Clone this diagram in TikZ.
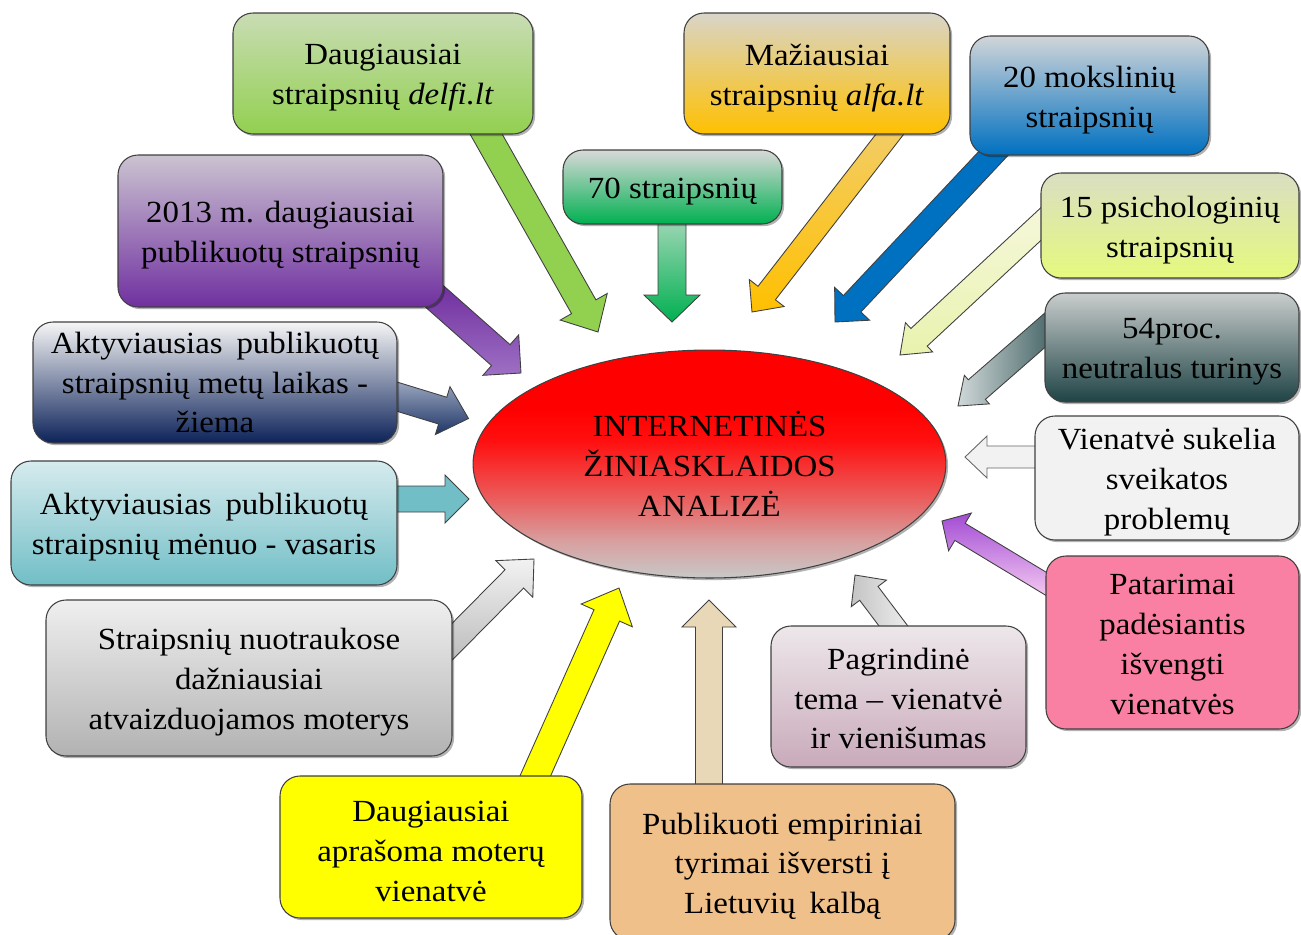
\documentclass[tikz,border=0pt]{standalone}
\usepackage{fontspec}
\setmainfont[FakeStretch=1.07]{Liberation Serif}
\usetikzlibrary{calc,shapes.geometric,shadows}

\definecolor{gDelfi}{HTML}{92D050}
\definecolor{gDelfiT}{HTML}{C9DCB4}
\definecolor{pur}{HTML}{7030A0}
\definecolor{purT}{HTML}{CBC3D1}
\definecolor{navy}{HTML}{0C2259}
\definecolor{navyM}{HTML}{7C89A8}
\definecolor{navyT}{HTML}{F6F6F6}
\definecolor{teal1}{HTML}{71BEC6}
\definecolor{tealT}{HTML}{D6EBEE}
\definecolor{grT}{HTML}{EFEFEF}
\definecolor{grB}{HTML}{B2B2B2}
\definecolor{yel}{HTML}{FFFF00}
\definecolor{tan1}{HTML}{F0C08A}
\definecolor{mauve}{HTML}{C9AABA}
\definecolor{mauveT}{HTML}{EDE7EA}
\definecolor{pink1}{HTML}{F97FA3}
\definecolor{wgrey}{HTML}{F2F2F2}
\definecolor{slate}{HTML}{1F4345}
\definecolor{slateT}{HTML}{C9CDCD}
\definecolor{lyel}{HTML}{E6F97E}
\definecolor{lyelT}{HTML}{DADEC2}
\definecolor{blue1}{HTML}{0070C0}
\definecolor{blueT}{HTML}{D1D5D9}
\definecolor{orng}{HTML}{FFC000}
\definecolor{orngT}{HTML}{D9D5C9}
\definecolor{grn}{HTML}{00B050}
\definecolor{grnT}{HTML}{D9D9D9}
% arrow colours
\definecolor{aGrnT}{HTML}{ADDABF}
\definecolor{aOrT}{HTML}{F1CE70}
\definecolor{aLyT}{HTML}{F6F8DC}
\definecolor{aLyB}{HTML}{E9F2AE}
\definecolor{aSlL}{HTML}{D0D8D8}
\definecolor{aSlR}{HTML}{2F5254}
\definecolor{aPkT}{HTML}{A24CD4}
\definecolor{aPkB}{HTML}{F7CDF2}
\definecolor{aGyL}{HTML}{C4C4C4}
\definecolor{aGyR}{HTML}{F0F0F0}
\definecolor{aTan}{HTML}{E8D8B8}
\definecolor{aG2T}{HTML}{F2F2F2}
\definecolor{aG2B}{HTML}{BBBBBB}
\definecolor{aNvT}{HTML}{A1ABC3}
\definecolor{aNvB}{HTML}{1D3566}
\definecolor{aPuT}{HTML}{6C2A9C}
\definecolor{aPuB}{HTML}{9E70C4}
% ellipse
\definecolor{elG}{HTML}{C8C8C8}
\definecolor{elP}{HTML}{D8A0A0}
\definecolor{elM}{HTML}{EA6060}
\definecolor{elR}{HTML}{FF1010}
\pgfdeclareverticalshading{ellshade}{100bp}{color(0bp)=(elG); color(25bp)=(elG); color(33bp)=(elP); color(42bp)=(elM); color(55bp)=(elR); color(62bp)=(red); color(100bp)=(red)}

\newcommand\fsz{\fontsize{17.5}{22.6}\selectfont}

\tikzset{
  bx/.style={draw=black!75, line width=0.6pt, rounded corners=0.4cm, inner sep=0pt,
    drop shadow={shadow xshift=1.2pt, shadow yshift=-1.2pt, opacity=0.3, fill=black}},
  bxtext/.style={font=\fsz, align=center, inner sep=0pt},
  arr/.style={draw=black!75, line width=0.5pt, line join=miter},
}

% box: [text shift], name, x1, y1, x2, y2, style, text
\newcommand\mybox[8][-0.085cm]{\node[bx,#7, minimum width={(#5-#3)*0.02cm}, minimum height={(#6-#4)*0.02cm},
  label={[bxtext,yshift=#1,name=#2t]center:#8}] (#2) at ({(#3+#5)/2},{(#4+#6)/2}) {};}

% block arrow: style, tail, tip, shaft half, head half, head length (px)
\newcommand\blockarrow[6]{%
  \coordinate (ah) at ($(#3)!#6*0.02cm!(#2)$);
  \draw[arr,#1] ($(#2)!#4*0.02cm!90:(#3)$) -- ($(ah)!#4*0.02cm!90:(#3)$) -- ($(ah)!#5*0.02cm!90:(#3)$) -- (#3) -- ($(ah)!#5*0.02cm!-90:(#3)$) -- ($(ah)!#4*0.02cm!-90:(#3)$) -- ($(#2)!#4*0.02cm!-90:(#3)$) -- cycle;}

\begin{document}
\begin{tikzpicture}[x=0.02cm,y=-0.02cm]
\useasboundingbox (0,0) rectangle (1301,934);
\clip (0,0) rectangle (1301,934);

% arrow end points
\coordinate (t1) at (477,118);  \coordinate (h1) at (598,332);
\coordinate (t2) at (672,210);  \coordinate (h2) at (672,322);
\coordinate (t3) at (901.6,119); \coordinate (h3) at (752,312);
\coordinate (t4) at (1006,140); \coordinate (h4) at (835,322);
\coordinate (t5) at (1056,210); \coordinate (h5) at (900,355);
\coordinate (t6) at (1060,317); \coordinate (h6) at (958,406);
\coordinate (t7) at (1050,457); \coordinate (h7) at (965,457);
\coordinate (t8) at (1058,591); \coordinate (h8) at (942,521);
\coordinate (t9) at (904,640);  \coordinate (h9) at (855,575);
\coordinate (t10) at (709,800); \coordinate (h10) at (709,600);
\coordinate (t11) at (529,790); \coordinate (h11) at (619,588);
\coordinate (t12) at (440,654); \coordinate (h12) at (534,559);
\coordinate (t13) at (385,499); \coordinate (h13) at (469,499);
\coordinate (t14) at (385,393); \coordinate (h14) at (468.5,418.5);
\coordinate (t15) at (425,288); \coordinate (h15) at (521,373);

\blockarrow{fill=gDelfi}{t1}{h1}{14}{27}{29}
\blockarrow{top color=aGrnT,bottom color=grn}{t2}{h2}{14}{28}{27}
\blockarrow{top color=aOrT,bottom color=orng}{t3}{h3}{11}{22}{24}
\blockarrow{fill=blue1}{t4}{h4}{12}{24}{25}
\blockarrow{top color=aLyT,bottom color=aLyB}{t5}{h5}{12}{20}{26}
\blockarrow{left color=aSlL,right color=aSlR}{t6}{h6}{13}{19}{25}
\blockarrow{fill=wgrey,draw=black!60}{t7}{h7}{11}{21}{22}
\blockarrow{top color=aPkT,bottom color=aPkB}{t8}{h8}{10}{22}{21}
\blockarrow{left color=aGyL,right color=aGyR}{t9}{h9}{11.5}{22}{23}
\blockarrow{fill=aTan}{t10}{h10}{13.5}{27}{27}
\blockarrow{fill=yel}{t11}{h11}{14}{28}{30}
\blockarrow{top color=aG2T,bottom color=aG2B}{t12}{h12}{13}{26}{28}
\blockarrow{fill=teal1}{t13}{h13}{13}{24}{24}
\blockarrow{top color=aNvT,bottom color=aNvB}{t14}{h14}{14}{25}{27}
\blockarrow{top color=aPuT,bottom color=aPuB}{t15}{h15}{14}{27}{27}

% boxes
\mybox{b1}{233}{13}{533}{134}{top color=gDelfiT,middle color=gDelfi,bottom color=gDelfi}{Daugiausiai\\straipsnių \textit{delfi.lt}}
\mybox{b2}{118}{155}{443}{307}{top color=purT,bottom color=pur}{2013 m. daugiausiai\\publikuotų straipsnių}
\mybox[0cm]{b3}{33}{322}{397}{443}{top color=navyT,middle color=navyM,bottom color=navy}{Aktyviausias\hspace{0.45em}publikuotų\\straipsnių metų laikas -\\žiema}
\mybox{b4}{11}{461}{397}{585}{top color=tealT,middle color=teal1,bottom color=teal1}{Aktyviausias\hspace{0.45em}publikuotų\\straipsnių mėnuo - vasaris}
\mybox{b5}{46}{600}{452}{756}{top color=grT,bottom color=grB}{Straipsnių nuotraukose\\dažniausiai\\atvaizduojamos moterys}
\mybox{b6}{280}{776}{582}{918}{fill=yel}{Daugiausiai\\aprašoma moterų\\vienatvė}
\mybox{b7}{610}{784}{955}{940}{fill=tan1}{Publikuoti empiriniai\\tyrimai išversti į\\Lietuvių\hspace{0.45em}kalbą}
\mybox[-0.04cm]{b8}{771}{626}{1026}{767}{top color=mauveT,middle color=mauve,bottom color=mauve}{Pagrindinė\\tema – vienatvė\\ir vienišumas}
\mybox[-0.04cm]{b9}{1046}{556}{1299}{729}{fill=pink1}{Patarimai\\padėsiantis\\išvengti\\vienatvės}
\mybox{b10}{1035}{416}{1299}{540}{fill=wgrey}{Vienatvė sukelia\\sveikatos\\problemų}
\mybox{b11}{1045}{293}{1299}{402}{top color=slateT,bottom color=slate}{54proc.\\neutralus turinys}
\mybox{b12}{1041}{173}{1299}{278}{top color=lyelT,middle color=lyel,bottom color=lyel}{15 psichologinių\\straipsnių}
\mybox{b13}{970}{36}{1209}{155}{top color=blueT,bottom color=blue1}{20 mokslinių\\straipsnių}
\mybox{b14}{684}{13}{950}{134}{top color=orngT,bottom color=orng}{Mažiausiai\\straipsnių \textit{alfa.lt}}
\mybox{b15}{563}{150}{782}{224}{top color=grnT,bottom color=grn}{70 straipsnių}

% central ellipse
\node[ellipse, draw=black!75, line width=0.6pt, shading=ellshade, minimum width=9.46cm, minimum height=4.56cm,
  inner sep=0pt, align=center, font=\fsz,
  drop shadow={shadow xshift=1.2pt, shadow yshift=-1.2pt, opacity=0.3, fill=black}]
  (c) at (709.5,464) {INTERNETINĖS\\ŽINIASKLAIDOS\\ANALIZĖ};
\end{tikzpicture}
\end{document}
